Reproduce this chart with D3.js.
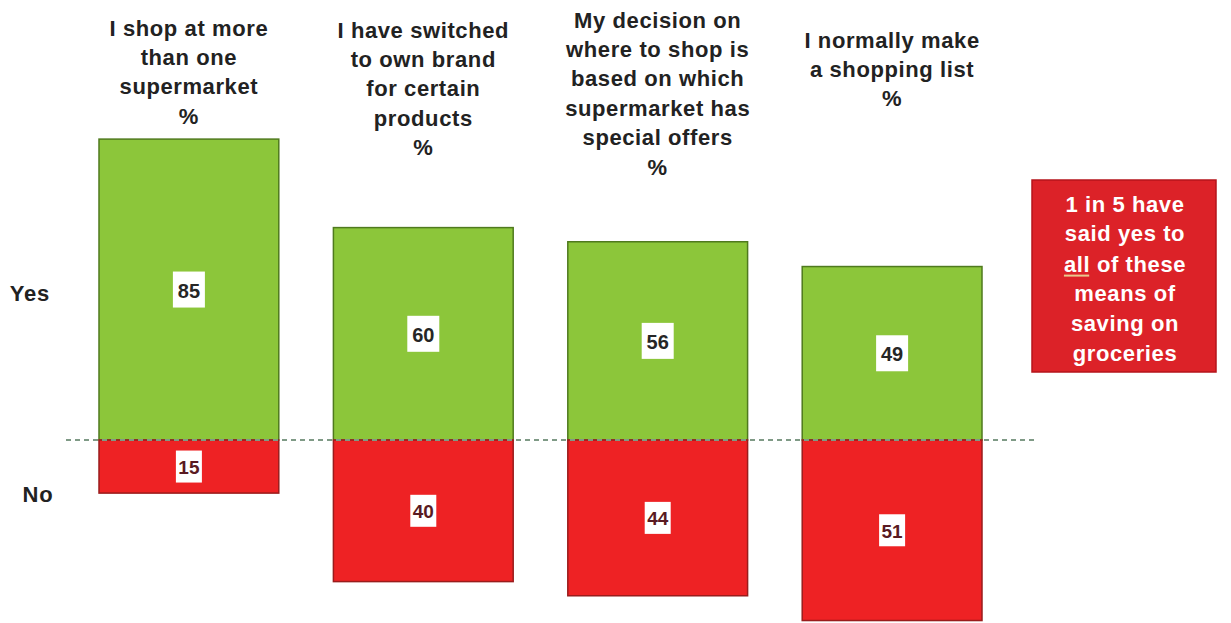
<!DOCTYPE html>
<html>
<head>
<meta charset="utf-8">
<script src="https://cdn.jsdelivr.net/npm/d3@7/dist/d3.min.js"></script>
<style>
  html, body { margin: 0; padding: 0; background: #fff; }
  svg { display: block; font-family: "Liberation Sans", Arial, sans-serif; }
</style>
</head>
<body>
<svg id="chart" width="1231" height="623"></svg>
<script>
// Survey statements (one stacked column each)
const categories = [
  "I shop at more than one supermarket",
  "I have switched to own brand for certain products",
  "My decision on where to shop is based on which supermarket has special offers",
  "I normally make a shopping list"
];
// Column headings, broken into lines
const titleLines = [
  ["I shop at more", "than one", "supermarket", "%"],
  ["I have switched", "to own brand", "for certain", "products", "%"],
  ["My decision on", "where to shop is", "based on which", "supermarket has", "special offers", "%"],
  ["I normally make", "a shopping list", "%"]
];
const yesValues = [85, 60, 56, 49];
const noValues = [15, 40, 44, 51];
const rowLabels = ["Yes", "No"];
const calloutLines = ["1 in 5 have", "said yes to", "all of these", "means of", "saving on", "groceries"];

const svg = d3.select("#chart");

const x = d3.scaleBand()
  .domain(categories)
  .range([99, 982])
  .paddingInner(0.233)
  .paddingOuter(0);

// Yes goes up from the zero line, No goes down
const y = d3.scaleLinear().domain([0, 100]).range([440, 86]);

const green = "#8cc63a", greenEdge = "#4f7a1e";
const red = "#ee2224", redEdge = "#9a1c1c";

const rows = categories.map((c, i) => ({ c, yes: yesValues[i], no: noValues[i] }));

// Yes segments
svg.append("g").selectAll("rect").data(rows).join("rect")
  .attr("x", d => x(d.c))
  .attr("width", x.bandwidth())
  .attr("y", d => y(d.yes))
  .attr("height", d => y(0) - y(d.yes))
  .attr("fill", green)
  .attr("stroke", greenEdge)
  .attr("stroke-width", 1.5);

// No segments
svg.append("g").selectAll("rect").data(rows).join("rect")
  .attr("x", d => x(d.c))
  .attr("width", x.bandwidth())
  .attr("y", y(0))
  .attr("height", d => y(-d.no) - y(0))
  .attr("fill", red)
  .attr("stroke", redEdge)
  .attr("stroke-width", 1.5);

// Dotted zero line across the chart
svg.append("line")
  .attr("x1", 66).attr("x2", 1036)
  .attr("y1", y(0)).attr("y2", y(0))
  .attr("stroke", "#7f9a86")
  .attr("stroke-width", 2)
  .attr("stroke-dasharray", "5,4");

// Value labels in white boxes
function valueLabel(g, cx, cy, txt, color, w, h, fs) {
  const grp = g.append("g");
  grp.append("rect")
    .attr("x", cx - w / 2).attr("y", cy - h / 2)
    .attr("width", w).attr("height", h)
    .attr("fill", "#fff");
  grp.append("text")
    .attr("x", cx).attr("y", cy + 1)
    .attr("text-anchor", "middle")
    .attr("dominant-baseline", "central")
    .attr("font-size", fs).attr("font-weight", "bold")
    .attr("fill", color)
    .text(txt);
}
const labels = svg.append("g");
rows.forEach(d => {
  const cx = x(d.c) + x.bandwidth() / 2;
  valueLabel(labels, cx, (y(d.yes) + y(0)) / 2, d.yes, "#262626", 32, 36, 20);
  valueLabel(labels, cx, (y(0) + y(-d.no)) / 2, d.no, "#5a1a22", 26, 32, 19);
});

// Column headings
const titleTop = [28, 30, 20, 40];
const lineGap = 29.4;
titleLines.forEach((lines, i) => {
  const cx = x(categories[i]) + x.bandwidth() / 2;
  const t = svg.append("text")
    .attr("text-anchor", "middle")
    .attr("font-size", 22).attr("font-weight", "bold")
    .attr("fill", "#222")
    .attr("letter-spacing", 0.6);
  lines.forEach((ln, j) => {
    t.append("tspan")
      .attr("x", cx)
      .attr("y", titleTop[i] + j * lineGap)
      .attr("dominant-baseline", "central")
      .text(ln);
  });
});

// Row labels
svg.append("text").attr("x", 30).attr("y", 293)
  .attr("text-anchor", "middle").attr("dominant-baseline", "central")
  .attr("font-size", 22).attr("font-weight", "bold").attr("fill", "#222")
  .attr("letter-spacing", 0.8)
  .text(rowLabels[0]);
svg.append("text").attr("x", 38).attr("y", 494)
  .attr("text-anchor", "middle").attr("dominant-baseline", "central")
  .attr("font-size", 22).attr("font-weight", "bold").attr("fill", "#222")
  .attr("letter-spacing", 0.8)
  .text(rowLabels[1]);

// Callout box
const box = svg.append("g");
box.append("rect")
  .attr("x", 1032).attr("y", 180)
  .attr("width", 184).attr("height", 192)
  .attr("fill", "#dc2228")
  .attr("stroke", "#b5151b").attr("stroke-width", 1.5);
calloutLines.forEach((ln, j) => {
  const ly = 204 + j * 29.8;
  const t = box.append("text")
    .attr("x", 1125).attr("y", ly)
    .attr("text-anchor", "middle").attr("dominant-baseline", "central")
    .attr("font-size", 22).attr("font-weight", "bold").attr("fill", "#fff")
    .attr("letter-spacing", 0.6);
  if (ln.startsWith("all")) {
    const first = t.append("tspan").text("all");
    t.append("tspan").text(ln.slice(3));
    // Emphasis underline beneath the word "all"
    const bb = first.node().getBBox();
    box.append("line")
      .attr("x1", bb.x).attr("x2", bb.x + bb.width - 1)
      .attr("y1", ly + 12).attr("y2", ly + 12)
      .attr("stroke", "#e9c98e").attr("stroke-width", 2);
  } else {
    t.text(ln);
  }
});
</script>
</body>
</html>
